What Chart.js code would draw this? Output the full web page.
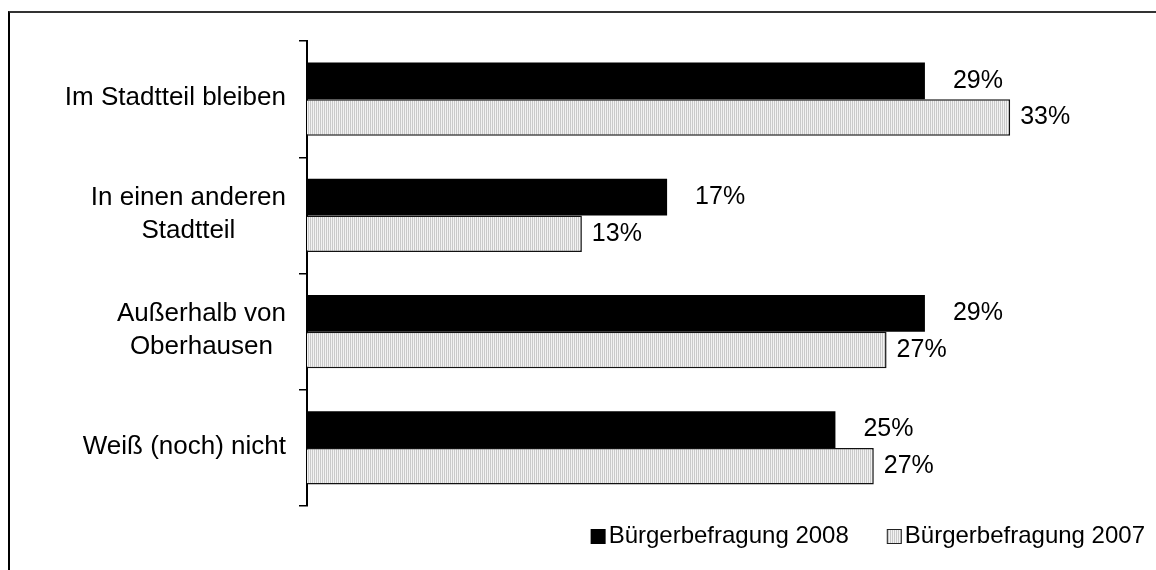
<!DOCTYPE html>
<html>
<head>
<meta charset="utf-8">
<script src="https://cdn.jsdelivr.net/npm/chart.js@4/dist/chart.umd.min.js"></script>
<style>
  html, body { margin: 0; padding: 0; background: #fff; overflow: hidden; }
  #wrap { position: relative; width: 1156px; height: 570px; }
  #frame {
    position: absolute; left: 8px; top: 11px; width: 2000px; height: 2000px;
    border-left: 2px solid #000; border-top: 2px solid #333; pointer-events: none;
  }
  canvas { position: absolute; left: 0; top: 0; }
</style>
</head>
<body>
<div id="wrap">
  <div id="frame"></div>
  <canvas id="chart" width="1156" height="570"></canvas>
</div>
<script>
const categories = [
  ["Im Stadtteil bleiben"],
  ["In einen anderen", "Stadtteil"],
  ["Außerhalb von", "Oberhausen"],
  ["Weiß (noch) nicht"]
];
const series2008 = [29.0, 16.9, 29.0, 24.8];
const series2007 = [33.0, 12.9, 27.2, 26.6];
const seriesNames = ["Bürgerbefragung 2008", "Bürgerbefragung 2007"];

const FONT = '"Liberation Sans", Arial, sans-serif';

// fine vertical hatch like the excel fill
function makeHatch() {
  const c = document.createElement("canvas");
  c.width = 2;
  c.height = 2;
  const g = c.getContext("2d");
  g.fillStyle = "#f2f2f2";
  g.fillRect(0, 0, 2, 2);
  g.fillStyle = "#c9c9c9";
  g.fillRect(0, 0, 1, 2);
  return g.createPattern(c, "repeat");
}

const ctx = document.getElementById("chart").getContext("2d");
const hatch = makeHatch();

const categoryLabels = {
  id: "categoryLabels",
  afterDraw(chart) {
    const y = chart.scales.y;
    const c = chart.ctx;
    c.save();
    c.font = "26px " + FONT;
    c.fillStyle = "#000";
    c.textAlign = "center";
    c.textBaseline = "middle";
    categories.forEach((lines, i) => {
      const w = Math.max(...lines.map((l) => c.measureText(l).width));
      const cx = y.right - 21 - w / 2;
      const cy = y.getPixelForTick(i) - 1;
      lines.forEach((l, j) => {
        c.fillText(l, cx, cy + (j - (lines.length - 1) / 2) * 33);
      });
    });
    c.restore();
  },
};

const valueLabels = {
  id: "valueLabels",
  afterDatasetsDraw(chart) {
    const c = chart.ctx;
    const offsets = [28, 10];
    c.save();
    c.font = "25px " + FONT;
    c.fillStyle = "#000";
    c.textAlign = "left";
    c.textBaseline = "middle";
    chart.data.datasets.forEach((ds, d) => {
      chart.getDatasetMeta(d).data.forEach((bar, i) => {
        c.fillText(Math.round(ds.data[i]) + "%", bar.x + offsets[d], bar.y);
      });
    });
    c.restore();
  },
};

const boxLegend = {
  id: "boxLegend",
  afterDraw(chart) {
    const c = chart.ctx;
    const ds = chart.data.datasets;
    c.save();
    c.font = "24px " + FONT;
    c.textBaseline = "alphabetic";
    c.textAlign = "left";
    const widths = ds.map((d) => 15 + 3 + c.measureText(d.label).width);
    const total = widths.reduce((a, b) => a + b, 0) + 38 * (ds.length - 1);
    let x = 1145 - total;
    ds.forEach((d, i) => {
      c.fillStyle = d.backgroundColor;
      c.fillRect(x, 529, 15, 15);
      if (d.borderWidth) {
        c.strokeStyle = "#222";
        c.lineWidth = 1;
        c.strokeRect(x + 0.5, 529.5, 14, 14);
      }
      c.fillStyle = "#000";
      c.fillText(d.label, x + 18, 543);
      x += widths[i] + 38;
    });
    c.restore();
  },
};

new Chart(ctx, {
  type: "bar",
  data: {
    labels: categories,
    datasets: [
      {
        label: seriesNames[0],
        data: series2008,
        backgroundColor: "#000",
        borderWidth: 0,
      },
      {
        label: seriesNames[1],
        data: series2007,
        backgroundColor: hatch,
        borderColor: "#111",
        borderWidth: 1.5,
      },
    ],
  },
  options: {
    indexAxis: "y",
    responsive: false,
    animation: false,
    barPercentage: 1,
    categoryPercentage: 0.63,
    layout: { padding: { top: 41, bottom: 64, left: 0, right: 18 } },
    plugins: {
      legend: { display: false },
      tooltip: { enabled: false },
    },
    scales: {
      x: { display: false, min: 0, max: 39 },
      y: {
        offset: true,
        grid: {
          display: true,
          offset: true,
          drawOnChartArea: false,
          drawTicks: true,
          tickLength: 8,
          color: "#000",
          lineWidth: 1.5,
        },
        border: { display: true, color: "#000", width: 2 },
        ticks: { display: false },
        afterFit: (s) => {
          s.width = 307;
        },
      },
    },
  },
  plugins: [categoryLabels, valueLabels, boxLegend],
});
</script>
</body>
</html>
